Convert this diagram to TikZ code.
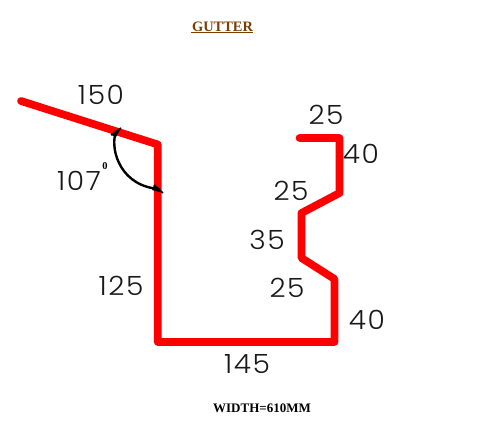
\documentclass[tikz,border=0pt]{standalone}
\usepackage{fontspec}
\setmainfont{Liberation Serif}
\newfontfamily\dimfont{Poppins Light}[FakeStretch=1.06,LetterSpace=6]
\definecolor{titlebrown}{RGB}{122,62,0}
\tikzset{
	profile/.style={draw=red, line width=7.7pt, line join=round, line cap=round},
	angleline/.style={draw=black, line width=2.4pt},
	dimlabel/.style={font=\dimfont\fontsize{26.5}{26.5}\selectfont, text=black!90, inner sep=0pt},
	titlelabel/.style={font=\bfseries\fontsize{14.4}{15}\selectfont, text=titlebrown, inner sep=0pt},
	widthlabel/.style={font=\bfseries\fontsize{13}{14}\selectfont, inner sep=0pt}
}
\begin{document}
\begin{tikzpicture}[x=1pt,y=-1pt]
	\useasboundingbox (0,0) rectangle (478,422);

	% title
	\node [titlelabel] (title) at (222.5,26.5) {GUTTER};
	\draw [titlebrown, line width=1pt] (191,32.5) -- (253,32.5);

	% gutter profile
	\draw [profile] (21,101) -- (157.7,144.5) -- (157.7,342) -- (334.5,342) -- (334.5,279)
		-- (301.5,258) -- (301.5,213) -- (339.5,193) -- (339.5,138) -- (299.5,138);

	% angle
	\draw [angleline] (115.5,133) .. controls (110,152) and (122,187) .. (160,189);
	\draw [angleline, line width=1.6pt] (121,128) -- (111,135);
	\draw [angleline, line width=1.6pt] (154,185) -- (163,193);
	\fill (121,128) -- (111,135) -- (116,137) -- cycle;
	\fill (154,185) -- (163,193) -- (152,190) -- cycle;

	% dimensions
	\node [dimlabel] (top150)  at (101,95)  {150};
	\node [dimlabel] (ang107)  at (79,181)  {107};
	\node [font=\bfseries\fontsize{10.5}{10.5}\selectfont, inner sep=0pt] (deg) at (105,166.5) {0};
	\node [dimlabel] (left125) at (121,286) {125};
	\node [dimlabel] (bot145)  at (247,364) {145};
	\node [dimlabel] (top25)   at (326,115) {25};
	\node [dimlabel] (up40)    at (361,154) {40};
	\node [dimlabel] (up25)    at (291,191) {25};
	\node [dimlabel] (mid35)   at (267,240) {35};
	\node [dimlabel] (low25)   at (287,288) {25};
	\node [dimlabel] (low40)   at (367,320) {40};

	% width
	\node [widthlabel] (width) at (262,408) {WIDTH=610MM};
\end{tikzpicture}
\end{document}
